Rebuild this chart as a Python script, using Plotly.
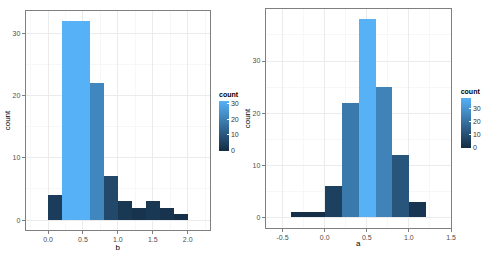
import plotly.graph_objects as go

# Left panel: histogram of b (bin width 0.2)
b_bin_centers = [-0.1, 0.1, 0.3, 0.5, 0.7, 0.9, 1.1, 1.3, 1.5, 1.7, 1.9, 2.1]
b_counts = [0, 4, 32, 32, 22, 7, 3, 2, 3, 2, 1, 0]

# Right panel: histogram of a (bin width 0.2)
a_bin_centers = [-0.5, -0.3, -0.1, 0.1, 0.3, 0.5, 0.7, 0.9, 1.1, 1.3]
a_counts = [0, 1, 1, 6, 22, 38, 25, 12, 3, 0]

b_ticks = [0.0, 0.5, 1.0, 1.5, 2.0]
a_ticks = [-0.5, 0.0, 0.5, 1.0, 1.5]
b_yticks = [0, 10, 20, 30]
a_yticks = [0, 10, 20, 30]

W, H = 498, 254
FONT = "Liberation Sans"
scale = [[0, "#132B43"], [1, "#56B1F7"]]

fig = go.Figure()
fig.add_trace(go.Bar(x=b_bin_centers, y=b_counts, width=0.2,
                     marker=dict(color=b_counts, coloraxis="coloraxis", line=dict(width=0)),
                     xaxis="x", yaxis="y", showlegend=False, hoverinfo="skip"))
fig.add_trace(go.Bar(x=a_bin_centers, y=a_counts, width=0.2,
                     marker=dict(color=a_counts, coloraxis="coloraxis2", line=dict(width=0)),
                     xaxis="x2", yaxis="y2", showlegend=False, hoverinfo="skip"))

def px_x(p):
    return p / W

def px_y(p):
    return 1 - p / H

axis_common = dict(showline=True, mirror=True, linecolor="#7f7f7f", linewidth=1,
                   ticks="outside", ticklen=3, tickcolor="#7f7f7f", tickwidth=1,
                   gridcolor="#ebebeb", gridwidth=1, zeroline=False, automargin=False,
                   tickfont=dict(family=FONT, size=7, color="#4d4d4d"),
                   title_font=dict(family=FONT, size=8, color="black"))

def cbar(xp, yc, ln):
    return dict(x=px_x(xp), xanchor="left", xref="paper",
                y=px_y(yc), yanchor="middle", yref="paper",
                len=ln, lenmode="pixels", thickness=10, xpad=0, ypad=0,
                outlinewidth=0, ticks="inside", ticklen=2, tickcolor="white",
                tickvals=[0, 10, 20, 30],
                tickfont=dict(family=FONT, size=7, color="#333333"),
                title=dict(text="<b>count</b>", side="top",
                           font=dict(family=FONT, size=7, color="black")))

fig.update_layout(
    width=W, height=H, margin=dict(l=0, r=0, t=0, b=0, autoexpand=False),
    paper_bgcolor="white", plot_bgcolor="white", bargap=0,
    xaxis=dict(domain=[px_x(25.7), px_x(210)], range=[-0.32, 2.32], anchor="y",
               tickvals=b_ticks, ticktext=["0.0", "0.5", "1.0", "1.5", "2.0"],
               title=dict(text="b", standoff=0),
               minor=dict(showgrid=True, gridcolor="#f7f7f7", dtick=0.25, tick0=0.25, ticklen=0),
               **axis_common),
    yaxis=dict(domain=[px_y(230), px_y(11)], range=[-1.6, 33.6], anchor="x",
               tickvals=b_yticks, title=dict(text="count", standoff=0),
               minor=dict(showgrid=True, gridcolor="#f7f7f7", dtick=5, tick0=5, ticklen=0),
               **axis_common),
    xaxis2=dict(domain=[px_x(265.7), px_x(451)], range=[-0.7, 1.5], anchor="y2",
                tickvals=a_ticks, ticktext=["-0.5", "0.0", "0.5", "1.0", "1.5"],
                title=dict(text="a", standoff=0),
                minor=dict(showgrid=True, gridcolor="#f7f7f7", dtick=0.25, tick0=0.25, ticklen=0),
                **axis_common),
    yaxis2=dict(domain=[px_y(227.7), px_y(9.3)], range=[-1.9, 39.9], anchor="x2",
                tickvals=a_yticks, title=dict(text="count", standoff=0),
                minor=dict(showgrid=True, gridcolor="#f7f7f7", dtick=5, tick0=5, ticklen=0),
                **axis_common),
    coloraxis=dict(colorscale=scale, cmin=0, cmax=32, colorbar=cbar(219, 119.5, 62)),
    coloraxis2=dict(colorscale=scale, cmin=0, cmax=38, colorbar=cbar(460.7, 117, 62)),
)

fig.write_html("out.html", config={"displayModeBar": False},
               post_script="document.body.style.margin='0';")
